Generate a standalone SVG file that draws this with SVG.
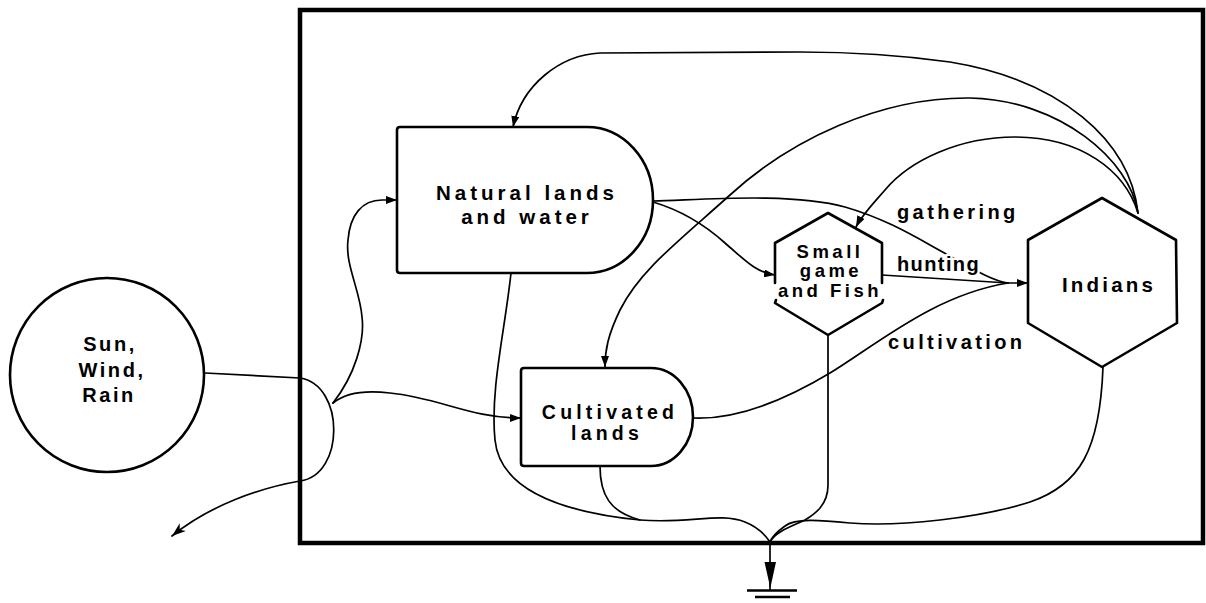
<svg xmlns="http://www.w3.org/2000/svg" width="1206" height="603" viewBox="0 0 1206 603">
<defs>
<style>
.node{fill:none;stroke:#000;stroke-width:2.6;stroke-linejoin:round;stroke-linecap:round}
.conn{fill:none;stroke:#000;stroke-width:1.7;stroke-linecap:round}
.lbl{font-family:"Liberation Sans",Arial,sans-serif;font-weight:bold;fill:#000}
.halo{paint-order:stroke;stroke:#fff;stroke-width:5;stroke-linejoin:round}
</style>
<marker id="arr" markerUnits="userSpaceOnUse" markerWidth="11" markerHeight="8" refX="11" refY="4" orient="auto">
<path d="M0,0 L11,4 L0,8 Z" fill="#000"/>
</marker>
<marker id="arrBig" markerUnits="userSpaceOnUse" markerWidth="14" markerHeight="10" refX="14" refY="5" orient="auto">
<path d="M0,0 L14,5 L0,10 L4,5 Z" fill="#000"/>
</marker>
</defs>
<rect width="1206" height="603" fill="#fff"/>

<g id="connectors">
<path class="conn" d="M205,373 L300,378 C345,385 345,475 300,481 C260,488 210,505 172,536" marker-end="url(#arrBig)"/>
<path class="conn" d="M333,403 C355,375 365,340 362,317 C360,290 345,265 348,240 C350,215 362,200 382,200 L397,200" marker-end="url(#arr)"/>
<path class="conn" d="M333,403 C345,393 365,390 390,393 C440,398 470,418 521,418" marker-end="url(#arr)"/>
<path class="conn" d="M511,273 C505,330 490,390 495,440 C500,490 560,512 640,520 C690,524 720,512 745,522 C760,528 766,536 770,542"/>
<path class="conn" d="M600,466 C600,495 610,512 640,520"/>
<path class="conn" d="M828,335 L828,485 C828,505 815,514 805,520 C790,527 775,532 770,542"/>
<path class="conn" d="M1103,367 C1100,450 1080,485 1030,502 C980,518 900,527 850,523 C820,520 795,518 785,526 C778,531 772,537 770,542"/>
<path class="conn" d="M1138,213 C1130,140 1060,80 950,62 C900,55 850,52 800,52 L600,53 C560,55 522,85 513,127" marker-end="url(#arr)"/>
<path class="conn" d="M1138,213 C1130,160 1060,100 970,98 C880,97 790,140 730,195 C680,240 640,270 620,310 C608,335 605,350 605,367" marker-end="url(#arr)"/>
<path class="conn" d="M1138,213 C1125,170 1080,137 1015,137 C960,137 910,160 885,190 C872,205 862,215 856,227" marker-end="url(#arr)"/>
<path class="conn" d="M653,201 C700,200 790,192 845,207 C890,220 920,240 950,256 C970,267 990,280 1008,283"/>
<path class="conn" d="M653,202 C680,210 705,225 725,243 C745,260 755,272 775,275" marker-end="url(#arr)"/>
<path class="conn" d="M882,275 L1008,283"/>
<path class="conn" d="M693,418 C740,420 790,397 830,373 C880,342 935,295 1008,283"/>
<path class="conn" d="M1005,283 L1028,283" stroke-width="2.5" marker-end="url(#arr)"/>
<path class="conn" d="M770,542 L770,590" stroke-width="2"/>
<path d="M764.5,562 L776,562 L770.3,588 Z" fill="#000"/>
<path d="M747,590.5 L797,590.5 M755,597 L790,597" stroke="#000" stroke-width="2.6" fill="none"/>
</g>

<rect id="boundary" x="300" y="10" width="903" height="533" fill="none" stroke="#000" stroke-width="4.5"/>

<g id="sun">
<circle class="node" cx="107" cy="375" r="97"/>
<text class="lbl" font-size="20" letter-spacing="2.6" text-anchor="middle"><tspan x="110" y="351">Sun,</tspan><tspan x="112" y="377">Wind,</tspan><tspan x="109" y="402">Rain</tspan></text>
</g>

<g id="natural-lands">
<path class="node" d="M400,127 L587,127 A66,73 0 0 1 587,273 L400,273 Q397,273 397,270 L397,130 Q397,127 400,127 Z"/>
<text class="lbl" font-size="20.5" letter-spacing="4" text-anchor="middle"><tspan x="527" y="200">Natural lands</tspan><tspan x="527" y="224">and water</tspan></text>
</g>

<g id="cultivated-lands">
<path class="node" d="M524,368 L651,368 A42,49 0 0 1 651,466 L524,466 Q521,466 521,463 L521,371 Q521,368 524,368 Z"/>
<text class="lbl" font-size="19.5" letter-spacing="4.2" text-anchor="middle"><tspan x="610" y="419">Cultivated</tspan><tspan x="607" y="440">lands</tspan></text>
</g>

<g id="small-game">
<path class="node" d="M775,283 L775,243 L828,213 L882,243 L882,283"/>
<path class="node" d="M776,300 L775,303 L828,335 L882,303 L883,300"/>
<text class="lbl" font-size="18.5" letter-spacing="3.5" text-anchor="middle"><tspan x="830" y="258">Small</tspan><tspan x="831" y="277">game</tspan><tspan x="830" y="297">and Fish</tspan></text>
</g>

<g id="indians">
<path class="node" d="M1102,198 L1176,240 L1177,323 L1102,367 L1028,323 L1028,240 Z"/>
<text class="lbl" x="1109" y="292" font-size="20.5" letter-spacing="3.2" text-anchor="middle">Indians</text>
</g>

<g id="labels">
<text class="lbl halo" x="897" y="219" font-size="20" letter-spacing="3.4">gathering</text>
<text class="lbl halo" x="897" y="271" font-size="20" letter-spacing="1.4">hunting</text>
<text class="lbl halo" x="888" y="349" font-size="20" letter-spacing="3.4">cultivation</text>
</g>
</svg>
